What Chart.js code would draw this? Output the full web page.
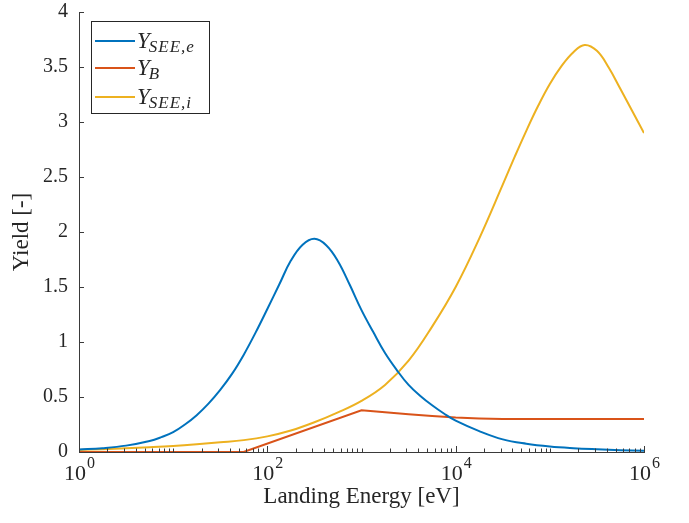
<!DOCTYPE html>
<html>
<head>
<meta charset="utf-8">
<script src="https://cdn.jsdelivr.net/npm/chart.js@4.4.0/dist/chart.umd.min.js"></script>
<style>
  html, body { margin: 0; padding: 0; background: #fff; }
  #wrap { width: 689px; height: 523px; }
</style>
</head>
<body>
<div id="wrap"><canvas id="yieldChart"></canvas></div>
<script>
// Values (landing energy in eV, yield unitless)
const seeEEnergy = [1, 1.778, 3.162, 5.623, 7.499, 10, 13.34, 17.78, 23.71, 31.62, 42.17, 56.23, 74.99, 100, 133.4, 177.8, 237.1, 316.2, 421.7, 562.3, 749.9, 1000, 1334, 1778, 2371, 3162, 4217, 5623, 7499, 1e4, 1.778e4, 3.162e4, 5.623e4, 1e5, 1.778e5, 3.162e5, 5.623e5, 1e6];
const seeEYield  = [0.022, 0.035, 0.058, 0.10, 0.135, 0.18, 0.25, 0.335, 0.44, 0.565, 0.71, 0.885, 1.085, 1.30, 1.52, 1.74, 1.885, 1.938, 1.88, 1.735, 1.52, 1.29, 1.09, 0.90, 0.745, 0.61, 0.51, 0.425, 0.35, 0.285, 0.19, 0.115, 0.075, 0.05, 0.035, 0.025, 0.017, 0.012];

const bEnergy = [1, 56, 1000, 1334, 1778, 3162, 5623, 1e4, 1.778e4, 3.162e4, 1e5, 1e6];
const bYield  = [0, 0, 0.38, 0.371, 0.362, 0.343, 0.327, 0.313, 0.305, 0.301, 0.3, 0.3];

const seeIEnergy = [1, 1.778, 3.162, 5.623, 10, 17.78, 31.62, 56.23, 100, 177.8, 316.2, 562.3, 1000, 1778, 3162, 5623, 1e4, 1.778e4, 3.162e4, 4.217e4, 5.623e4, 7.499e4, 1e5, 1.334e5, 1.778e5, 2.344e5, 3.162e5, 4.217e5, 5.623e5, 7.499e5, 1e6];
const seeIYield  = [0.018, 0.026, 0.035, 0.044, 0.055, 0.07, 0.088, 0.108, 0.142, 0.195, 0.27, 0.36, 0.465, 0.61, 0.83, 1.14, 1.50, 1.94, 2.43, 2.68, 2.92, 3.145, 3.345, 3.51, 3.635, 3.70, 3.647, 3.495, 3.30, 3.10, 2.90];

// legend text: [main symbol, subscript]
const seriesLabels = [['Y', 'SEE,e'], ['Y', 'B'], ['Y', 'SEE,i']];
const seriesColors = ['#0072BD', '#D95319', '#EDB120'];

// labelled decades on the energy axis
const xMajorTicks = [1, 100, 1e4, 1e6];
const xMajorExp = ['0', '2', '4', '6'];

const axisColor = '#3a3a3a';
const textColor = '#262626';
const serif = '"Liberation Serif", "DejaVu Serif", serif';

function toPoints(xs, ys) {
    return xs.map((x, i) => ({ x: x, y: ys[i] }));
}

// Draws MATLAB style inward ticks on the log axis, 10^n labels and the legend
const axisDecor = {
    id: 'axisDecor',
    afterDraw(chart) {
        const ctx = chart.ctx;
        const area = chart.chartArea;
        const xs = chart.scales.x;
        ctx.save();
        ctx.strokeStyle = axisColor;
        ctx.lineWidth = 1;

        // ticks for 1..9 x 10^p
        ctx.beginPath();
        for (let p = 0; p <= 6; p++) {
            for (let m = 1; m < 10; m++) {
                const v = m * Math.pow(10, p);
                if (v > 1e6) break;
                const px = Math.round(xs.getPixelForValue(v)) + 0.5;
                const len = xMajorTicks.includes(v) ? 6 : 3.5;
                ctx.moveTo(px, area.bottom);
                ctx.lineTo(px, area.bottom - len);
            }
        }
        ctx.stroke();

        // 10^n labels
        ctx.fillStyle = textColor;
        ctx.textBaseline = 'alphabetic';
        xMajorTicks.forEach((v, i) => {
            const px = xs.getPixelForValue(v);
            ctx.font = '22px ' + serif;
            const baseW = ctx.measureText('10').width;
            ctx.font = '16px ' + serif;
            const expW = ctx.measureText(xMajorExp[i]).width;
            const left = px - (baseW + expW) / 2;
            ctx.font = '22px ' + serif;
            ctx.textAlign = 'left';
            ctx.fillText('10', left, 480);
            ctx.font = '16px ' + serif;
            ctx.fillText(xMajorExp[i], left + baseW + 1, 468);
        });

        // legend box
        const box = { x: 91.5, y: 21.5, w: 118, h: 92 };
        ctx.fillStyle = '#fff';
        ctx.fillRect(box.x, box.y, box.w, box.h);
        ctx.strokeStyle = textColor;
        ctx.lineWidth = 1;
        ctx.strokeRect(box.x, box.y, box.w, box.h);
        const rows = [41, 68, 97];
        seriesLabels.forEach((lab, i) => {
            const y = rows[i];
            ctx.strokeStyle = seriesColors[i];
            ctx.lineWidth = 2;
            ctx.beginPath();
            ctx.moveTo(95, y);
            ctx.lineTo(135, y);
            ctx.stroke();
            ctx.fillStyle = textColor;
            ctx.textAlign = 'left';
            ctx.font = 'italic 23px ' + serif;
            ctx.letterSpacing = '0px';
            ctx.fillText(lab[0], 137, y + 7);
            const w = ctx.measureText(lab[0]).width;
            ctx.font = 'italic 17px ' + serif;
            ctx.letterSpacing = '1px';
            ctx.fillText(lab[1], 137 + w - 1, y + 11);
            ctx.letterSpacing = '0px';
        });
        ctx.restore();
    }
};

const ctx = document.getElementById('yieldChart').getContext('2d');
const yieldChart = new Chart(ctx, {
    type: 'line',
    data: {
        datasets: [
            {
                label: 'Y_SEE,e',
                data: toPoints(seeEEnergy, seeEYield),
                borderColor: seriesColors[0],
                borderWidth: 2,
                pointRadius: 0,
                tension: 0.4,
                fill: false
            },
            {
                label: 'Y_B',
                data: toPoints(bEnergy, bYield),
                borderColor: seriesColors[1],
                borderWidth: 2,
                pointRadius: 0,
                tension: 0,
                fill: false
            },
            {
                label: 'Y_SEE,i',
                data: toPoints(seeIEnergy, seeIYield),
                borderColor: seriesColors[2],
                borderWidth: 2,
                pointRadius: 0,
                tension: 0.4,
                fill: false
            }
        ]
    },
    options: {
        responsive: true,
        maintainAspectRatio: false,
        animation: false,
        layout: { padding: { top: 0, right: 45, left: 0, bottom: 0 } },
        plugins: {
            legend: { display: false },
            tooltip: { enabled: false }
        },
        scales: {
            x: {
                type: 'logarithmic',
                min: 1,
                max: 1e6,
                grid: { display: false },
                border: { display: true, color: axisColor, width: 1 },
                ticks: { display: false },
                title: {
                    display: true,
                    text: 'Landing Energy [eV]',
                    color: textColor,
                    font: { family: serif, size: 23 },
                    padding: { top: 0, bottom: 12 }
                },
                afterFit(scale) { scale.height = 71; }
            },
            y: {
                min: 0,
                max: 4,
                grid: {
                    drawOnChartArea: false,
                    drawTicks: true,
                    tickLength: -5,
                    color: axisColor
                },
                border: { display: true, color: axisColor, width: 1 },
                ticks: {
                    stepSize: 0.5,
                    padding: 16,
                    color: textColor,
                    font: { family: serif, size: 20 },
                    callback: v => `${v}`
                },
                title: {
                    display: true,
                    text: 'Yield [-]',
                    color: textColor,
                    font: { family: serif, size: 23 },
                    padding: { top: 8, bottom: 0 }
                },
                afterFit(scale) {
                    scale.width = 79;
                    scale.paddingTop = 12;
                    scale.paddingBottom = 0;
                }
            }
        }
    },
    plugins: [axisDecor]
});
</script>
</body>
</html>
